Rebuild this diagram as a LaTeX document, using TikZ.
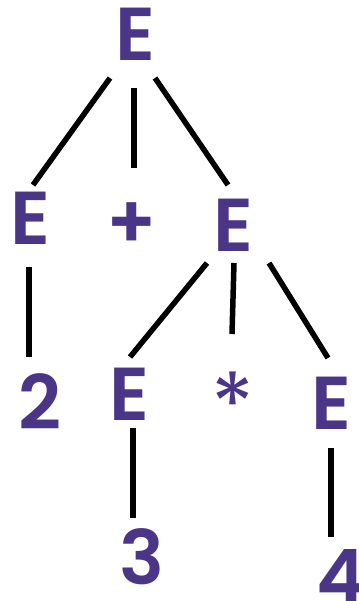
\documentclass[tikz,border=0pt]{standalone}
\usepackage{fontspec}
\setmainfont{Poppins}[BoldFont={Poppins SemiBold}]
\usepackage{tikz}
\usetikzlibrary{calc}
\usepackage{xcolor}
\definecolor{grape}{HTML}{4B3587}

\tikzset{
  sym/.style={inner sep=0pt, text=grape, font=\fontsize{75}{80}\selectfont\bfseries},
  branch/.style={black, line width=5.5pt}
}

\begin{document}
\begin{tikzpicture}[x=1pt, y=-1pt]
                \useasboundingbox (0,0) rectangle (358,601);
                \clip (0,0) rectangle (358,601);
                % Symbols
                \node[sym] (top) at (135,34) {E};
                \node[sym] (left) at (30,218) {E};
                \node[sym] (plus) at (132,226) {+};
                \node[sym] (mid) at (233,225) {E};
                \node[sym] (two) at (40,402) {2};
                \node[sym] (ethree) at (129,394) {E};
                \node[sym, font=\fontsize{88}{90}\selectfont] (star) at (233,404) {*};
                \node[sym] (efour) at (331,403) {E};
                \node[sym] (three) at (142,557) {3};
                \node[sym] (four) at (341,576) {4};

                % Branches
                \draw[branch] ($(top)+(-25,44)$) -- ($(left)+(3,-33)$);
                \draw[branch] ($(top)+(-1,54)$) -- ($(plus)+(2,-58)$);
                \draw[branch] ($(top)+(20,44)$) -- ($(mid)+(-5,-40)$);
                \draw[branch] ($(left)+(-1,49)$) -- ($(two)+(-11,-45)$);
                \draw[branch] ($(mid)+(-26,38)$) -- ($(ethree)+(1,-37)$);
                \draw[branch] ($(mid)+(1,38)$) -- ($(star)+(-1,-70)$);
                \draw[branch] ($(mid)+(36,38)$) -- ($(efour)+(-3,-45)$);
                \draw[branch] ($(ethree)+(4,34)$) -- ($(three)+(-9,-39)$);
                \draw[branch] ($(efour)+(0,45)$) -- ($(four)+(-10,-39)$);
            \end{tikzpicture}
\end{document}
